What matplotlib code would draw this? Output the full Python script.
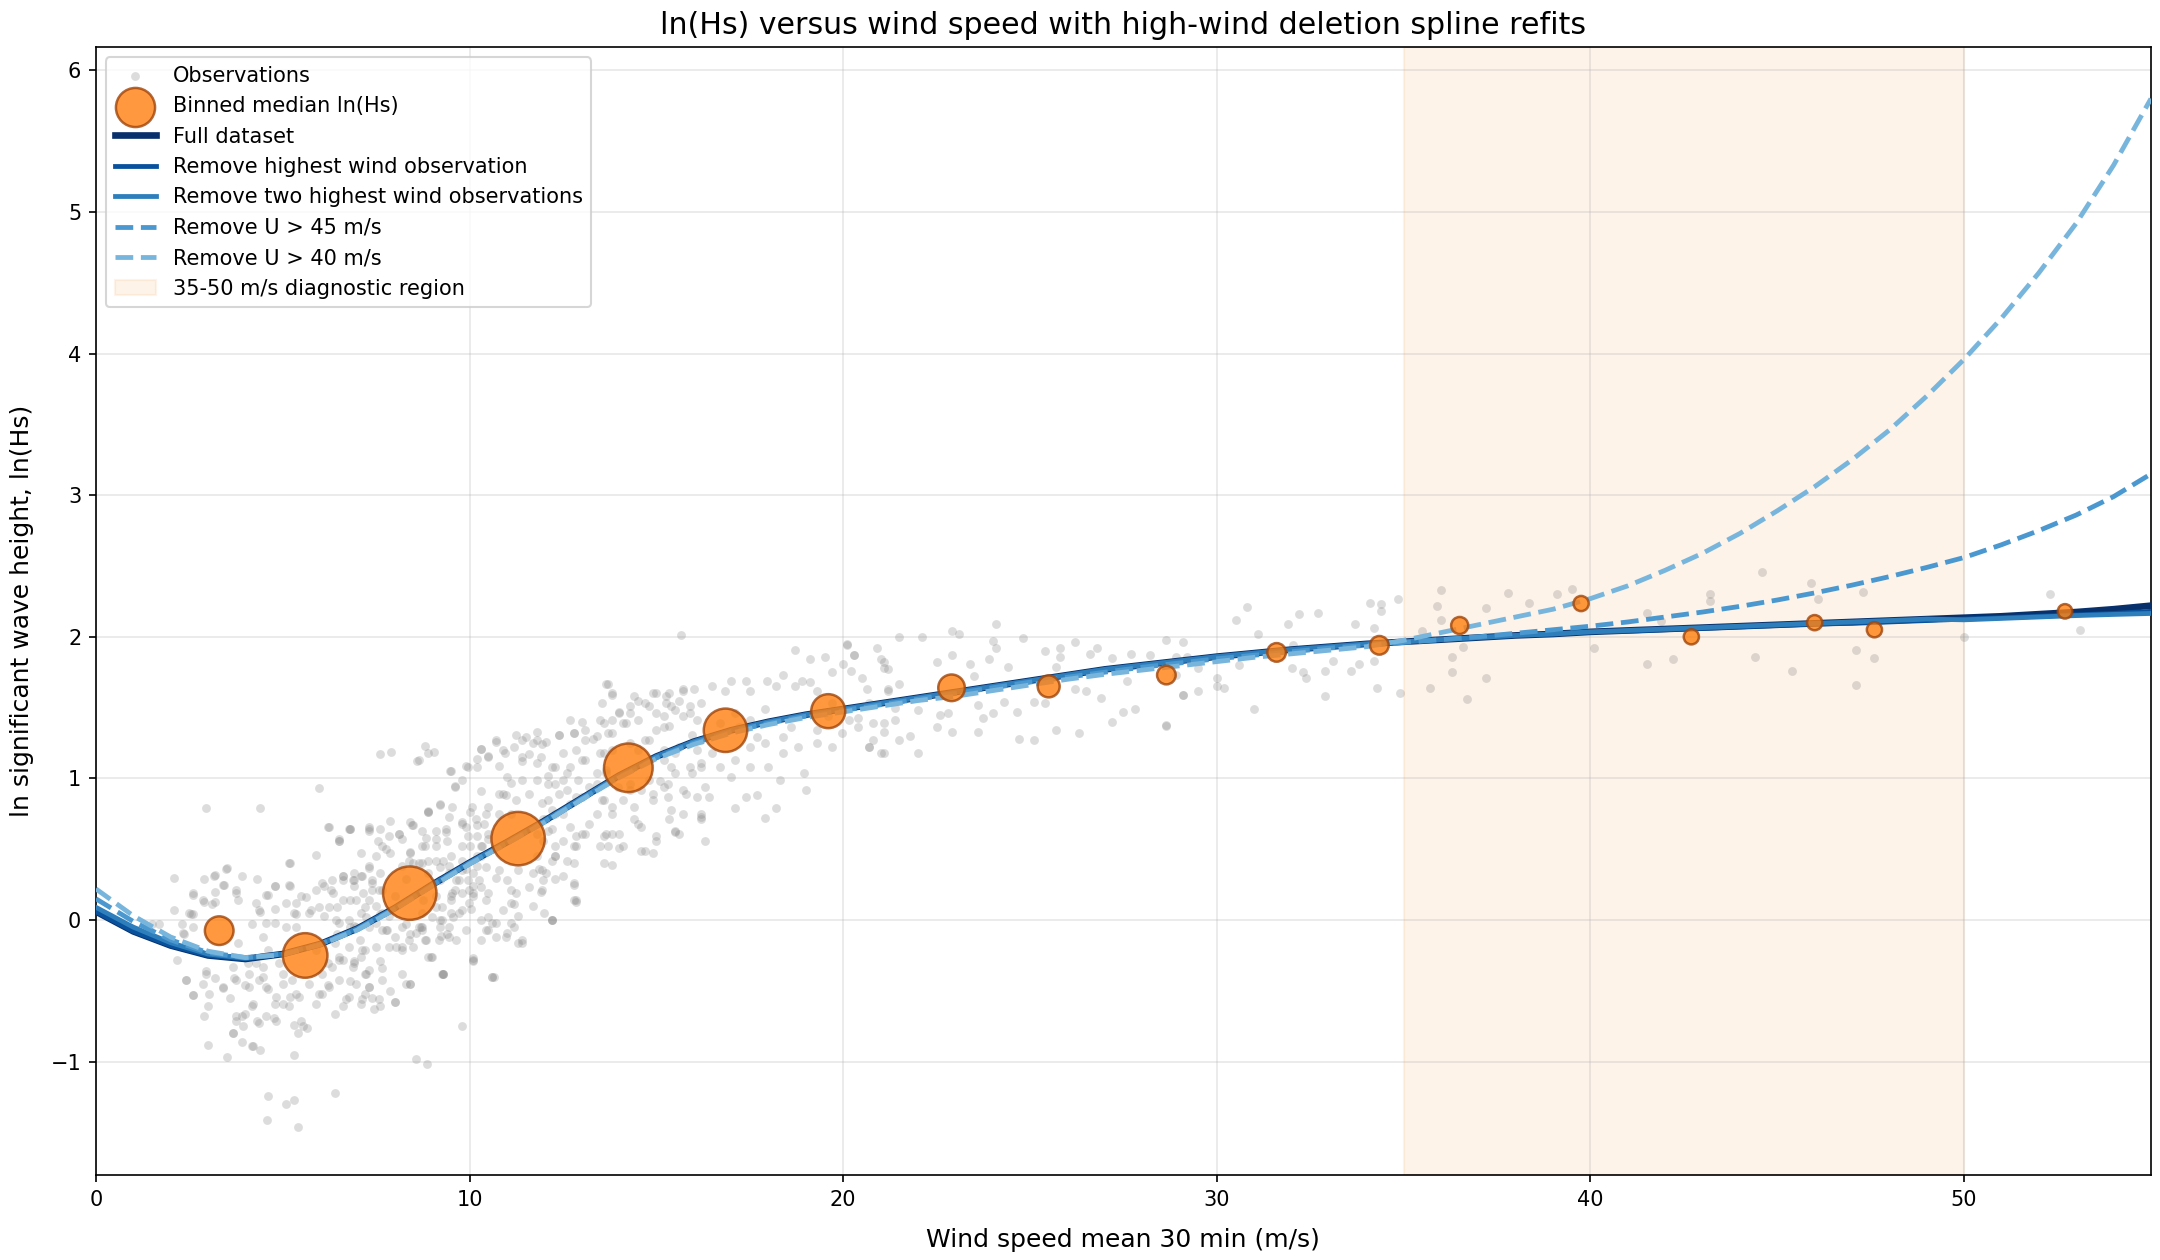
import matplotlib
matplotlib.use("Agg")
import matplotlib.pyplot as plt

# observations (wind speed m/s, ln Hs)
obs_low = [
    (1.5, -0.03), (1.7, -0.03), (2.1, 0.30), (2.1, 0.07), (2.3, -0.03), (2.35, -0.10), (2.5, 0.05),
    (2.6, 0.18), (2.6, 0.04), (2.6, -0.05), (2.9, 0.29), (2.9, 0.13), (2.95, 0.79), (3.2, 0.32),
    (3.2, 0.20), (3.2, 0.13), (3.4, 0.25), (3.5, 0.37), (3.75, 0.19), (3.9, 0.31), (4.3, 0.29),
    (4.4, 0.79), (2.16, -0.28), (2.4, -0.42), (2.6, -0.53), (2.95, -0.36), (3.2, -0.41), (3.0, -0.61),
    (2.9, -0.68), (3.0, -0.88), (3.4, -0.48), (3.7, -0.41), (3.5, -0.97), (3.6, -0.55), (3.75, -0.68),
    (3.66, -0.80), (3.9, -0.86), (4.2, -0.89), (4.4, -0.92), (3.9, -0.68), (4.2, -0.59), (4.3, -0.71),
    (4.55, -0.68), (4.77, -0.69), (4.8, -0.59), (4.6, -0.49), (4.46, -0.40), (4.28, -0.30), (4.0, -0.46),
    (3.8, -0.16), (4.06, -0.30), (4.6, -0.21), (4.46, -0.12), (4.19, -0.03), (4.4, 0.06), (4.6, 0.18),
    (4.8, 0.24), (5.2, 0.24), (4.8, -0.02), (5.08, 0.12), (5.2, 0.40), (4.8, 0.08), (5.3, 0.05),
    (4.55, -0.02), (4.9, -0.30), (5.0, -0.45), (5.2, -0.54), (5.0, -0.59), (5.35, -0.52), (5.5, -0.71),
    (5.3, -0.74), (5.66, -0.76), (5.4, -0.80), (5.3, -0.95), (4.6, -1.24), (5.1, -1.30), (5.3, -1.27),
    (4.58, -1.41), (5.4, -1.46), (6.4, -1.22), (5.96, 0.93), (5.97, -0.52), (6.2, -0.46), (6.4, -0.66),
    (6.2, -0.30), (5.9, -0.21), (6.4, -0.16), (6.6, -0.28), (6.7, -0.56), (6.95, -0.45), (7.2, -0.52),
    (7.4, -0.55), (7.45, -0.63), (7.1, -0.59), (6.9, -0.30), (7.3, -0.35), (7.1, -0.26), (7.5, -0.19),
    (7.65, -0.34), (8.0, -0.58), (7.6, -0.61), (8.4, -0.45), (8.56, -0.98), (8.85, -1.02), (8.98, -0.26),
    (9.3, -0.38), (9.8, -0.75), (10.1, -0.28), (10.6, -0.40), (7.67, -0.07), (7.85, 0.03), (7.5, 0.10),
    (7.1, 0.05), (6.9, -0.04), (6.5, -0.02), (6.1, 0.03), (5.75, 0.07), (5.5, 0.17), (6.1, 0.24),
    (6.3, 0.21), (6.6, 0.31), (6.9, 0.24), (7.1, 0.31), (7.3, 0.38), (7.5, 0.45), (7.76, 0.50),
    (7.4, 0.26), (7.67, 0.21), (8.0, 0.17), (8.3, 0.29), (8.2, 0.38), (8.4, 0.47), (8.65, 0.40),
    (8.74, 0.52), (9.1, 0.57), (9.36, 0.64), (8.74, 0.63), (8.2, 0.57), (7.85, 0.59), (7.6, 0.64),
    (7.3, 0.64), (6.8, 0.64), (6.5, 0.57), (6.2, 0.66), (7.6, 1.17), (7.9, 1.19), (8.6, 1.12),
    (8.8, 1.23), (8.9, 1.18), (9.05, 1.19), (9.5, 1.05), (9.9, 1.09), (9.6, 0.95), (9.8, 0.99),
    (9.2, 0.82), (8.9, 0.77), (8.4, 0.69), (9.45, 0.73), (9.8, 0.69), (10.0, 0.76), (8.74, 0.05),
    (9.2, 0.0), (8.74, -0.07), (9.45, -0.12), (9.9, -0.07), (9.8, 0.07), (9.6, 0.21), (10.1, 0.24),
    (9.9, 0.36), (9.45, 0.33), (9.3, 0.42), (10.3, 0.45), (10.5, 0.57), (9.1, 0.17), (9.5, 0.17),
    (10.1, 0.17), (10.5, -0.07), (10.97, -0.12), (10.6, -0.02), (11.3, -0.16), (11.1, -0.02),
    (11.4, 1.15), (11.8, 1.11), (11.4, 0.99), (10.97, 0.88), (11.1, 0.97), (12.1, 1.02), (11.95, 0.83),
    (12.2, 0.64), (12.3, 0.45), (11.86, 0.36), (11.95, 0.21), (12.3, 0.29), (12.8, 0.40), (12.8, 0.26),
    (12.8, 0.14), (12.2, 0.0), (11.3, 0.03), (11.7, 0.10), (8.5, -0.19), (9.0, -0.26), (8.2, -0.19),
    (8.7, -0.05), (9.5, 0.05), (9.24, -0.11), (9.3, -0.38), (10.1, -0.27),
]
# second pass over the low-wind band, 2-10 m/s
obs_band = [
    (3.48, 0.36), (3.44, 0.25), (3.17, 0.31), (2.86, 0.14), (3.12, 0.11), (2.54, 0.04), (2.32, -0.09),
    (2.59, 0.19), (3.75, 0.21), (3.79, 0.14), (4.28, 0.12), (4.37, 0.07), (4.55, 0.18), (4.8, 0.24),
    (5.17, 0.25), (5.35, 0.12), (5.62, 0.16), (5.9, 0.21), (6.06, 0.26), (6.33, 0.28), (6.6, 0.31),
    (6.87, 0.28), (7.13, 0.31), (7.4, 0.28), (7.58, 0.21), (7.31, 0.14), (6.96, 0.14), (6.6, 0.14),
    (6.24, 0.09), (5.98, 0.09), (5.71, 0.05), (5.35, 0.04), (5.08, -0.05), (5.35, -0.05), (6.42, 0.0),
    (6.78, 0.0), (6.96, -0.05), (7.22, 0.02), (7.49, -0.02), (7.67, 0.05), (7.76, -0.07), (8.0, -0.12),
    (8.2, -0.05), (8.38, -0.14), (8.56, -0.09), (8.83, -0.14), (9.18, -0.14), (9.45, -0.05), (7.85, -0.19),
    (8.2, -0.21), (7.13, -0.21), (6.78, -0.19), (6.51, -0.28), (6.87, -0.33), (7.22, -0.38), (6.51, -0.42),
    (6.24, -0.47), (6.78, -0.54), (7.13, -0.56), (6.6, -0.61), (6.06, -0.52), (5.71, -0.45), (5.9, -0.59),
    (5.44, -0.54), (5.17, -0.61), (4.82, -0.54), (4.55, -0.47), (4.37, -0.42), (4.1, -0.47), (4.19, -0.61),
    (4.0, -0.66), (3.75, -0.71), (3.93, -0.75), (4.82, -0.71), (4.37, -0.73), (5.53, -0.75), (3.66, -0.80),
    (4.19, -0.89), (4.46, -0.33), (4.1, -0.38), (3.75, -0.42), (3.39, -0.47), (3.03, -0.52), (2.86, -0.45),
    (2.59, -0.53), (2.41, -0.42), (2.95, -0.38), (3.66, -0.33), (5.0, -0.38), (5.26, -0.42), (6.06, -0.38),
    (6.33, -0.33), (7.31, -0.47), (7.58, -0.56), (8.0, -0.58), (7.67, -0.42), (8.3, -0.45), (8.9, -0.26),
    (9.27, -0.38), (7.67, 0.52), (8.1, 0.61), (8.47, 0.67), (8.83, 0.58), (9.1, 0.52), (9.36, 0.62),
    (9.8, 0.68), (9.54, 0.80), (8.9, 0.76), (8.38, 0.42), (8.74, 0.40), (9.1, 0.42), (9.45, 0.38),
    (9.72, 0.28), (9.99, 0.21), (9.54, 0.19), (9.27, 0.09), (9.72, 0.05), (9.99, 0.12), (9.0, 0.02),
    (8.74, -0.05), (9.27, 0.0), (10.25, 0.28), (10.34, 0.52), (10.16, 0.71), (7.31, 0.66), (6.78, 0.64),
    (6.24, 0.66), (5.9, 0.46), (5.17, 0.40), (6.51, 0.56),
]
# second pass over the dense core, 6-16 m/s
obs_core = [
    (6.5, 0.56), (6.8, 0.64), (7.3, 0.63), (7.55, 0.56), (7.86, 0.70), (8.1, 0.61), (8.5, 0.67),
    (8.9, 0.76), (9.2, 0.81), (9.6, 0.94), (7.86, 0.47), (8.4, 0.48), (8.8, 0.52), (9.1, 0.63),
    (9.4, 0.56), (9.8, 0.52), (9.5, 0.45), (7.3, 0.37), (6.9, 0.33), (6.6, 0.28), (6.35, 0.19),
    (6.9, 0.28), (6.45, 0.09), (6.8, 0.14), (7.15, 0.19), (7.6, 0.33), (7.4, 0.21), (7.2, 0.09),
    (7.6, 0.04), (7.8, -0.07), (7.3, -0.05), (7.06, -0.14), (6.8, -0.05), (6.45, -0.10), (6.5, -0.26),
    (6.9, -0.29), (7.2, -0.21), (7.2, -0.38), (7.6, -0.29), (8.04, -0.19), (8.4, -0.10), (8.8, -0.14),
    (8.66, -0.05), (9.2, -0.05), (9.55, 0.02), (9.1, 0.09), (8.75, 0.14), (8.3, -0.03), (9.5, 0.14),
    (9.8, 0.19), (9.64, 0.28), (9.2, 0.28), (8.9, 0.33), (8.5, 0.40), (8.9, 0.42), (9.2, 0.375),
    (9.8, 0.35), (9.4, -0.10), (9.64, -0.14), (8.2, -0.38), (7.86, -0.50), (7.3, -0.47), (6.8, -0.43),
    (9.3, -0.38), (8.4, -0.45), (8.66, 1.13), (9.47, 1.05), (9.96, 1.08), (7.1, 0.47),
    (10.2, 1.08), (10.3, 1.21), (10.5, 1.15), (10.7, 1.27), (10.9, 1.20), (11.2, 1.22), (11.4, 1.27),
    (11.6, 1.17), (11.9, 1.15), (11.8, 1.27), (12.05, 1.26), (12.4, 1.31), (12.8, 1.32), (13.1, 1.27),
    (12.7, 1.41), (13.0, 1.40), (13.4, 1.30), (13.6, 1.39), (13.7, 1.32), (13.8, 1.41), (14.1, 1.39),
    (14.3, 1.46), (14.5, 1.41), (14.8, 1.51), (15.2, 1.44), (15.4, 1.51), (15.7, 1.44), (15.9, 1.51),
    (16.1, 1.41), (15.35, 1.37), (15.0, 1.34), (14.7, 1.27), (14.3, 1.25), (13.8, 1.20), (13.6, 1.18),
    (15.2, 1.20), (15.6, 1.22), (16.1, 1.20), (15.9, 1.08), (15.5, 1.04), (15.2, 0.94), (15.3, 0.87),
    (14.9, 0.85), (14.6, 0.92), (14.8, 0.99), (14.3, 0.92), (14.1, 0.85), (13.8, 0.80), (13.6, 0.85),
    (13.4, 0.75), (13.2, 0.68), (13.0, 0.61), (12.7, 0.66), (12.85, 0.52), (12.5, 0.56), (12.3, 0.45),
    (12.05, 0.33), (11.96, 0.28), (11.7, 0.33), (11.6, 0.23), (11.25, 0.19), (11.1, 0.12), (10.9, 0.07),
    (10.5, 0.02), (10.45, -0.07), (10.7, -0.12), (10.3, -0.14), (10.5, 0.19), (10.3, 0.23), (10.1, 0.33),
    (10.45, 0.375), (10.7, 0.30), (10.2, 0.45), (10.0, 0.52), (10.2, 0.59), (10.4, 0.68), (9.9, 0.66),
    (10.5, 0.80), (10.9, 0.89), (11.25, 0.85), (11.1, 0.75), (11.6, 0.89), (11.8, 0.99), (12.1, 0.96),
    (12.4, 0.89), (12.5, 0.99), (12.1, 0.85), (12.3, 0.75), (11.96, 0.71), (12.1, 0.63), (11.96, 0.56),
    (11.8, 0.45), (12.7, 0.82), (12.85, 0.87), (13.2, 0.94), (12.9, 0.99), (13.4, 1.04), (13.65, 1.06),
    (13.8, 0.99), (13.0, 1.13), (12.7, 1.08), (12.3, 1.08), (12.5, 1.18), (12.85, 1.20), (13.8, 0.61),
    (13.7, 0.52), (13.6, 0.40), (12.85, 0.14), (12.2, 0.0), (11.4, -0.14), (10.6, -0.40), (10.1, -0.29),
    (16.2, 0.73), (15.6, 0.61), (15.5, 0.63), (15.35, 0.71), (15.0, 0.56), (14.6, 0.49), (14.5, 0.68),
    (14.1, 0.52), (14.0, 0.61), (13.6, 0.59), (16.2, 1.08), (16.3, 0.94), (16.1, 0.87), (15.7, 0.92),
    (15.6, 1.55), (16.0, 1.63), (15.25, 1.58), (15.0, 1.60), (14.5, 1.55), (14.3, 1.51), (14.0, 1.46),
    (13.65, 1.67), (13.8, 1.60), (15.7, 1.63),
]
obs_mid = [
    (10.3, 1.21), (10.7, 1.26), (10.2, 1.14), (10.5, 1.16), (10.96, 1.18), (11.25, 1.31), (11.5, 1.29),
    (11.7, 1.25), (11.8, 1.33), (11.95, 1.24), (10.8, 1.09), (11.0, 1.01), (11.4, 1.12), (10.3, 0.91),
    (10.8, 0.89), (10.07, 0.80), (10.45, 0.75), (10.8, 0.75), (10.2, 0.67), (10.5, 0.61), (9.95, 0.59),
    (10.3, 0.52), (9.8, 0.42), (10.2, 0.38), (9.95, 0.28), (10.1, 0.19), (10.05, 0.08), (10.45, 0.14),
    (10.3, 0.0), (10.7, -0.02), (11.0, -0.09), (10.65, -0.40), (11.0, 0.28), (10.8, 0.35), (11.3, 0.35),
    (11.1, 0.21), (11.2, 0.11), (11.2, -0.05), (11.4, -0.16), (12.2, 0.0), (12.0, 0.05), (11.9, 0.20),
    (11.95, 0.35), (12.2, 0.42), (12.6, 0.42), (12.85, 0.13), (12.8, 0.25), (12.5, 0.31), (12.3, 0.52),
    (11.8, 0.61), (12.05, 0.71), (12.2, 0.78), (12.5, 0.75), (12.85, 0.59), (12.8, 0.52), (13.1, 0.61),
    (13.0, 0.87), (12.6, 0.92), (12.3, 0.96), (12.2, 1.08), (12.6, 1.04), (13.1, 1.13), (12.8, 1.32),
    (12.4, 1.31), (13.1, 1.34), (13.3, 1.28), (13.5, 1.41), (13.7, 1.67), (13.55, 1.53), (13.8, 1.59),
    (14.0, 1.47), (14.2, 1.39), (13.8, 1.32), (13.5, 1.18), (13.65, 1.04), (13.4, 0.96), (13.55, 0.85),
    (13.8, 0.75), (13.96, 0.94), (14.3, 0.96), (14.4, 0.80), (13.65, 0.61), (13.5, 0.52), (14.0, 0.51),
    (14.4, 0.71), (14.7, 0.49), (14.9, 0.47), (14.98, 0.59), (14.6, 0.66), (13.8, 0.39), (14.5, 1.20),
    (14.8, 1.27), (15.2, 1.36), (15.0, 1.46), (14.7, 1.53), (14.4, 1.58), (14.9, 1.60), (15.25, 1.53),
    (15.35, 1.60), (15.7, 1.62), (15.65, 2.01), (15.5, 1.48), (15.9, 1.46), (15.95, 1.31), (15.5, 1.18),
    (15.2, 1.13), (15.4, 1.08), (15.3, 0.96), (15.4, 0.78), (14.9, 0.89), (15.1, 0.98), (15.5, 0.62),
    (15.7, 0.75), (16.2, 0.75), (16.4, 0.87), (16.2, 0.71), (16.3, 0.56), (15.8, 0.89), (15.96, 1.04),
    (16.2, 1.11), (16.5, 1.18), (16.7, 1.08), (17.0, 1.01), (17.1, 1.13), (17.4, 0.87), (17.7, 0.88),
    (17.9, 0.72), (18.2, 0.79), (17.1, 0.79), (17.5, 1.22), (17.2, 1.36), (17.7, 1.29), (17.9, 1.25),
    (18.4, 1.29), (18.8, 1.22), (18.95, 1.04), (19.0, 0.92), (18.3, 0.99), (18.0, 1.08), (17.5, 1.08),
    (16.2, 1.27), (16.2, 1.53), (16.5, 1.65), (16.85, 1.62), (17.0, 1.69), (17.4, 1.69), (17.5, 1.62),
    (17.97, 1.69), (18.2, 1.65), (18.4, 1.73), (18.7, 1.65), (18.9, 1.69), (19.1, 1.68), (18.7, 1.91),
    (19.1, 1.84), (19.5, 1.86), (19.7, 1.75), (20.1, 1.94), (20.3, 1.87), (20.0, 1.81), (19.3, 1.62),
    (19.7, 1.53), (19.97, 1.32), (20.15, 1.41), (19.7, 1.22), (19.6, 1.44), (19.3, 1.34), (18.6, 1.36),
    (18.4, 1.18), (19.3, 1.25), (17.9, 1.49), (17.5, 1.41), (17.1, 1.46), (16.7, 1.39), (20.7, 1.53),
    (20.4, 1.36), (20.8, 1.27), (21.1, 1.39), (21.0, 1.18), (20.7, 1.22), (21.0, 1.84), (21.1, 1.78),
    (21.2, 1.62),
]
obs_high = [
    (20.1, 1.95), (20.3, 1.87), (20.2, 1.76), (20.5, 1.71), (20.9, 1.92), (21.1, 1.82), (21.2, 1.77),
    (21.5, 2.00), (22.1, 2.00), (21.5, 1.67), (21.2, 1.63), (20.65, 1.63), (20.4, 1.43), (20.8, 1.39),
    (21.1, 1.33), (21.4, 1.41), (20.7, 1.22), (21.1, 1.18), (21.5, 1.27), (21.8, 1.30), (22.0, 1.18),
    (21.4, 1.50), (22.0, 1.48), (22.5, 1.36), (22.6, 1.45), (22.8, 1.46), (22.9, 1.33), (22.5, 1.82),
    (22.9, 1.87), (22.9, 2.04), (23.1, 2.02), (23.4, 1.81), (23.5, 1.72), (23.6, 1.52), (23.75, 1.43),
    (23.6, 1.33), (23.9, 1.84), (24.0, 1.97), (24.1, 2.09), (24.1, 1.92), (24.4, 1.79), (24.3, 1.54),
    (24.0, 1.46), (24.8, 1.99), (24.65, 1.47), (24.7, 1.28), (25.1, 1.27), (25.4, 1.90), (25.8, 1.86),
    (25.8, 1.92), (26.2, 1.96), (25.7, 1.79), (25.1, 1.54), (25.4, 1.53), (25.7, 1.34), (26.3, 1.32),
    (26.2, 1.63), (26.5, 1.62), (26.6, 1.88), (26.8, 1.92), (27.2, 1.85), (26.9, 1.57), (27.2, 1.40),
    (27.5, 1.47), (27.6, 1.69), (27.7, 1.88), (27.8, 1.49), (28.2, 1.87), (28.65, 1.98), (28.65, 1.38),
    (29.1, 1.96), (29.1, 1.59), (29.5, 1.62), (28.9, 1.86), (29.2, 1.86), (28.9, 1.73), (29.1, 1.59),
    (28.65, 1.37), (29.5, 1.78), (30.0, 1.71), (30.0, 1.65), (30.2, 1.64), (30.5, 2.12), (30.8, 2.21),
    (31.1, 2.02), (31.0, 1.49), (30.6, 1.80), (31.9, 2.09), (32.2, 2.16), (32.7, 2.17), (32.05, 1.94),
    (32.0, 1.78), (32.3, 1.75), (32.4, 1.71), (32.9, 1.76), (33.1, 1.83), (32.9, 1.58), (33.6, 1.76),
    (33.8, 1.81), (33.7, 2.09), (34.1, 2.24), (34.4, 2.23), (34.4, 2.18), (34.2, 2.06), (34.2, 1.83),
    (34.3, 1.64), (34.85, 2.27), (34.9, 1.60), (35.5, 2.04), (35.7, 1.64), (36.0, 2.33), (35.9, 2.22),
    (36.0, 2.12), (36.3, 1.86), (36.3, 1.75), (36.6, 1.93), (36.7, 1.56), (37.2, 2.20), (37.2, 1.71),
    (37.8, 2.31), (38.35, 2.24), (39.1, 2.30), (39.5, 2.34), (40.1, 1.92), (41.5, 2.17), (41.5, 1.81),
    (41.9, 2.11), (42.2, 1.84), (43.2, 2.30), (43.2, 2.25), (44.4, 1.86), (44.6, 2.46), (45.4, 1.76),
    (45.9, 2.38), (46.1, 2.27), (47.1, 1.91), (47.1, 1.66), (47.3, 2.32), (47.6, 1.85), (50.0, 2.00),
    (52.3, 2.30), (53.1, 2.05),
]

# binned medians
bin_u = [3.3, 5.6, 8.4, 11.3, 14.25, 16.85, 19.6, 22.9, 25.5, 28.65, 31.6, 34.35, 36.5, 39.75, 42.7, 46.0, 47.6, 52.7]
bin_ln = [-0.075, -0.25, 0.19, 0.575, 1.075, 1.34, 1.475, 1.64, 1.65, 1.73, 1.89, 1.94, 2.08, 2.235, 2.0, 2.10, 2.05, 2.18]
bin_size = [189, 458, 657, 657, 544, 434, 266, 163, 111, 80, 80, 80, 67, 53, 53, 53, 53, 48]

# spline fits evaluated at 1 m/s steps
fit_u = list(range(0, 56))
fit_full = [0.06, -0.08, -0.18, -0.25, -0.275, -0.24, -0.17, -0.06, 0.085, 0.25,
            0.405, 0.55, 0.70, 0.86, 1.02, 1.155, 1.26, 1.34, 1.40, 1.45,
            1.49, 1.53, 1.57, 1.61, 1.65, 1.69, 1.73, 1.77, 1.80, 1.83,
            1.86, 1.885, 1.91, 1.93, 1.95, 1.965, 1.98, 1.995, 2.01, 2.02,
            2.035, 2.045, 2.055, 2.065, 2.075, 2.085, 2.095, 2.105, 2.115, 2.125,
            2.135, 2.145, 2.16, 2.175, 2.195, 2.22]
fit_drop1 = fit_full[:41] + [2.04, 2.05, 2.06, 2.07, 2.08, 2.09, 2.095, 2.105, 2.115,
                             2.125, 2.135, 2.145, 2.155, 2.165, 2.18]
fit_drop2 = [0.09, -0.05, -0.16, -0.24, -0.27] + fit_full[5:50] + [2.12, 2.13, 2.14, 2.15, 2.158, 2.165]
fit_u45 = [0.15, -0.01, -0.14, -0.23, -0.265, -0.24, -0.17, -0.065, 0.08, 0.245,
           0.40, 0.545, 0.695, 0.855, 1.01, 1.145, 1.25, 1.33, 1.39, 1.44,
           1.48, 1.52, 1.56, 1.60, 1.64, 1.68, 1.715, 1.75, 1.785, 1.815,
           1.845, 1.87, 1.895, 1.92, 1.94, 1.96, 1.98, 2.0, 2.025, 2.05,
           2.075, 2.105, 2.14, 2.175, 2.215, 2.26, 2.31, 2.365, 2.425, 2.49,
           2.56, 2.65, 2.75, 2.86, 2.99, 3.15]
fit_u40 = [0.22, 0.03, -0.12, -0.22, -0.265, -0.245, -0.175, -0.07, 0.075, 0.24,
           0.395, 0.54, 0.69, 0.85, 1.005, 1.14, 1.24, 1.32, 1.38, 1.43,
           1.47, 1.51, 1.55, 1.58, 1.62, 1.66, 1.70, 1.735, 1.765, 1.795,
           1.825, 1.855, 1.88, 1.905, 1.93, 1.975, 2.03, 2.085, 2.14, 2.195,
           2.27, 2.36, 2.47, 2.59, 2.73, 2.89, 3.06, 3.25, 3.46, 3.70,
           3.96, 4.25, 4.57, 4.92, 5.33, 5.80]

fits = [
    ("Full dataset", fit_full, "#08306b", 3.2, "-"),
    ("Remove highest wind observation", fit_drop1, "#08519c", 2.3, "-"),
    ("Remove two highest wind observations", fit_drop2, "#2e7ebc", 2.3, "-"),
    ("Remove U > 45 m/s", fit_u45, "#4a98cf", 2.3, "--"),
    ("Remove U > 40 m/s", fit_u40, "#78b5dc", 2.3, "--"),
]

obs = obs_low + obs_band + obs_core + obs_mid + obs_high
obs_u = [p[0] for p in obs]
obs_ln = [p[1] for p in obs]

fig, ax = plt.subplots(figsize=(14.4, 8.4), dpi=150)
plt.subplots_adjust(left=0.0444, right=0.9958, bottom=0.0675, top=0.9627)

span = ax.axvspan(35, 50, color="#f28e2b", alpha=0.1, zorder=0)
sc_obs = ax.scatter(obs_u, obs_ln, s=18, color="gray", alpha=0.27, linewidths=0, zorder=2)

handles = []
for name, vals, col, lw, ls in fits:
    ln, = ax.plot(fit_u, vals, color=col, lw=lw, ls=ls, zorder=3)
    handles.append(ln)

sc_bin = ax.scatter(bin_u, bin_ln, s=bin_size, color="#ff7f0e", edgecolors="#a0450a",
                    linewidths=1.2, alpha=0.8, zorder=4)

ax.set_xlim(0, 55)
ax.set_ylim(-1.8, 6.165)
ax.grid(True, alpha=0.3)
ax.set_title("ln(Hs) versus wind speed with high-wind deletion spline refits", fontsize=14.4)
ax.set_xlabel("Wind speed mean 30 min (m/s)", fontsize=12, labelpad=9)
ax.set_ylabel("ln significant wave height, ln(Hs)", fontsize=12, labelpad=8)

ax.legend([sc_obs, sc_bin] + handles + [span],
          ["Observations", "Binned median ln(Hs)"] + [f[0] for f in fits] + ["35-50 m/s diagnostic region"],
          loc="upper left", fontsize=10)

fig.savefig("out.png", dpi=150)
